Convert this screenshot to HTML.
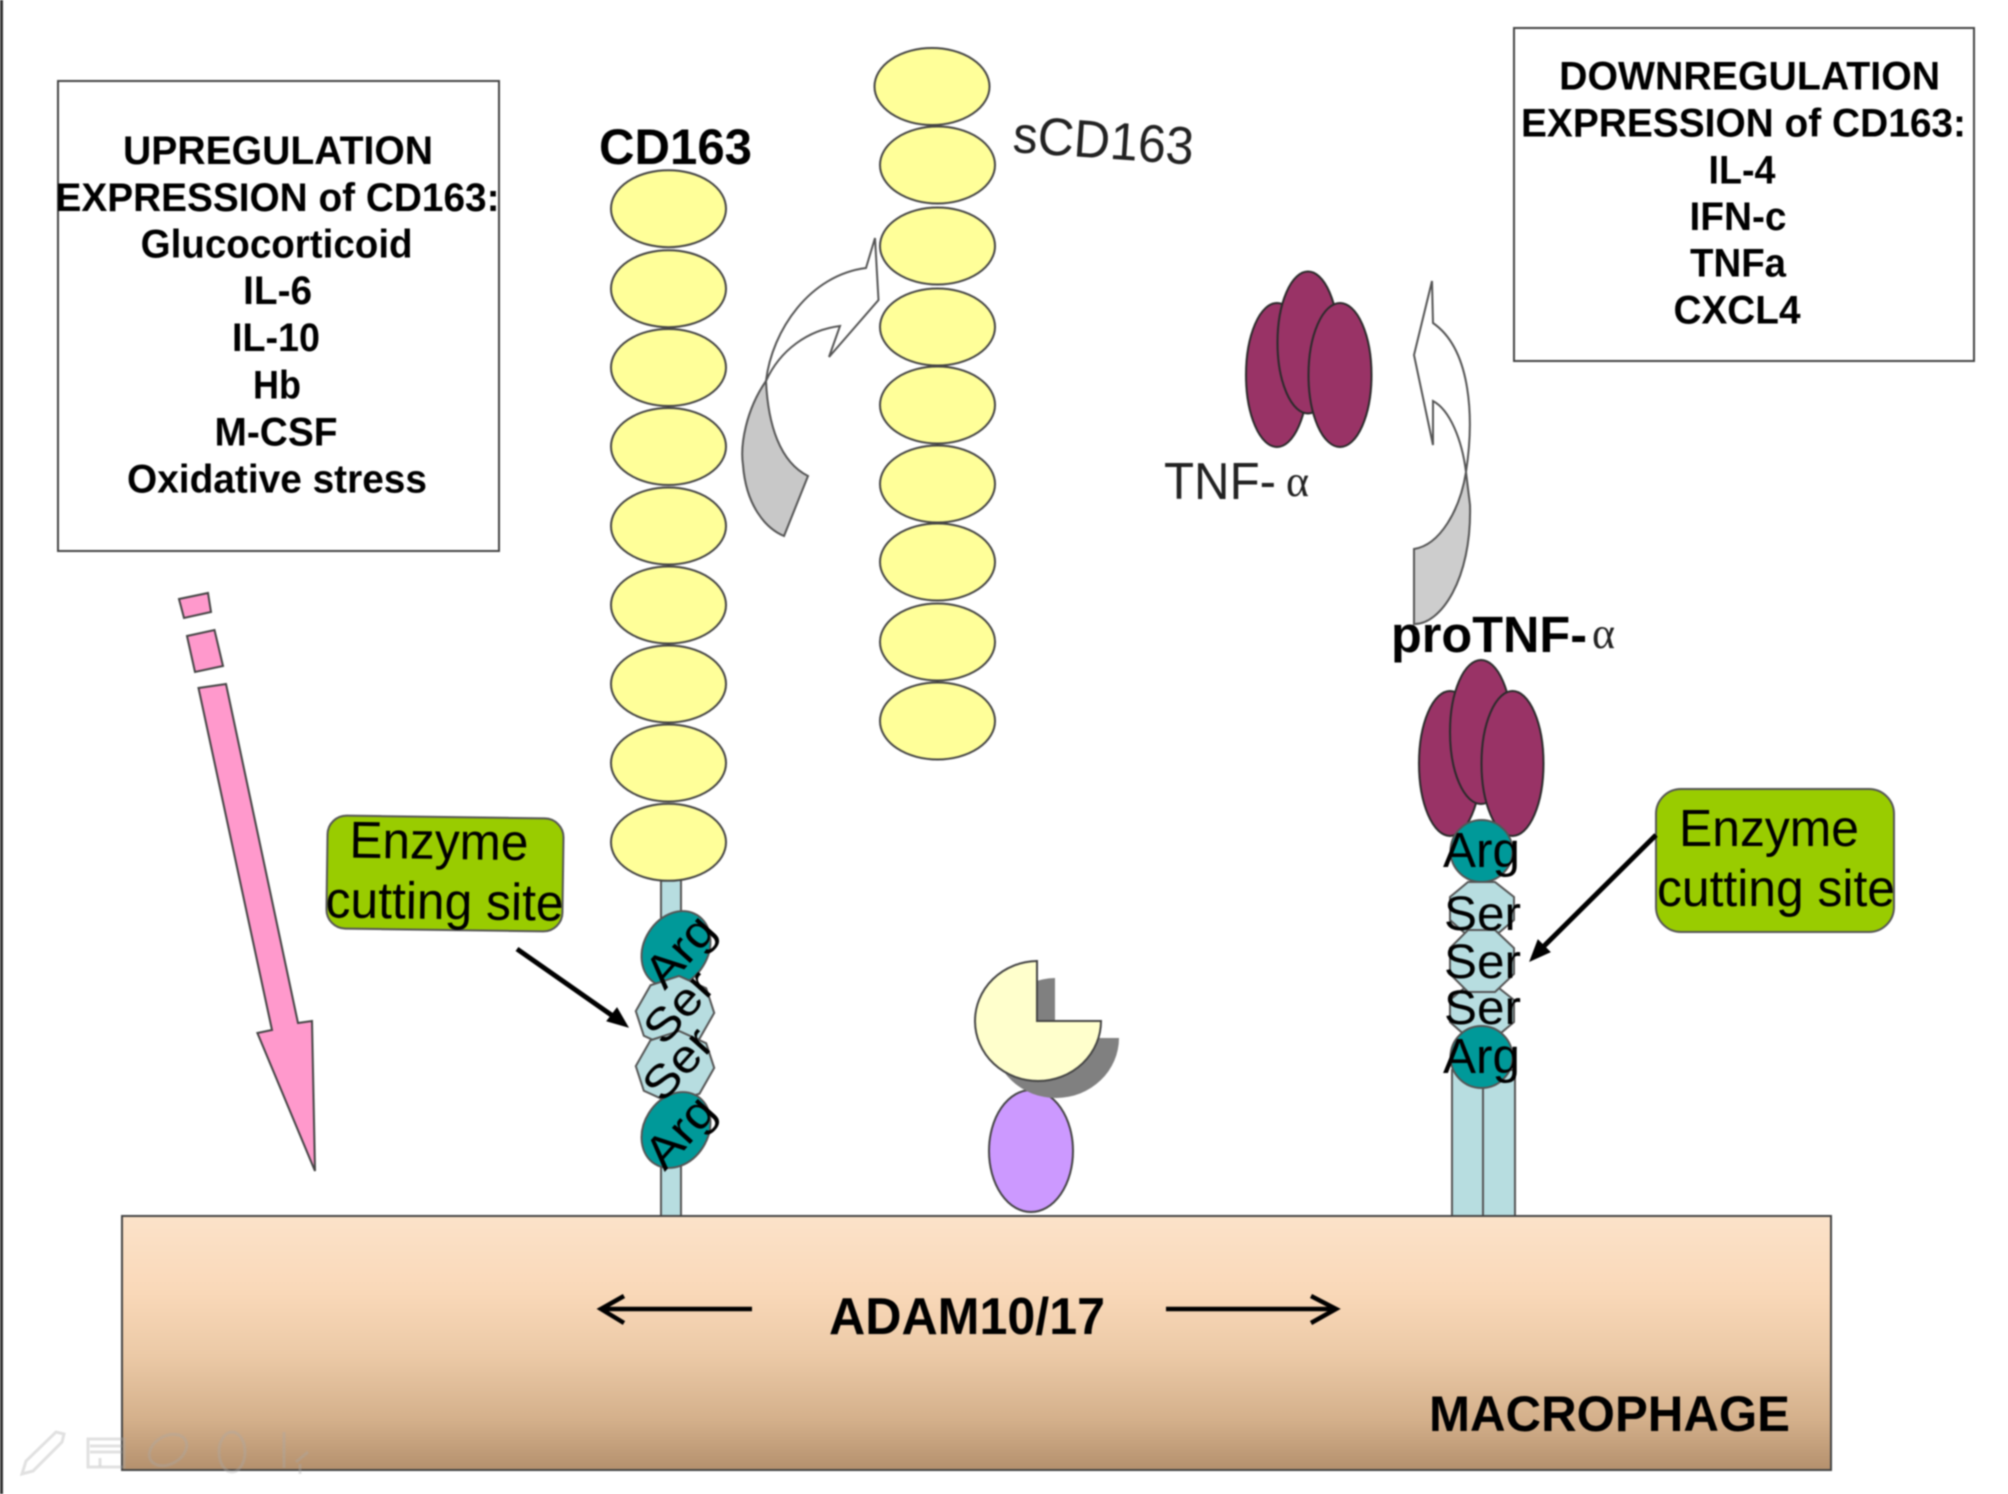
<!DOCTYPE html>
<html>
<head>
<meta charset="utf-8">
<style>
html,body{margin:0;padding:0;background:#fff;width:2008px;height:1494px;overflow:hidden}
svg{display:block;filter:blur(0.8px)}
text{font-family:"Liberation Sans",sans-serif;fill:#000}
.b{font-weight:bold;font-size:40px;text-anchor:middle}
</style>
</head>
<body>
<svg width="2008" height="1494" viewBox="0 0 2008 1494" xmlns="http://www.w3.org/2000/svg">
<defs>
<linearGradient id="mac" x1="0" y1="0" x2="0" y2="1">
<stop offset="0" stop-color="#FBE2C9"/>
<stop offset="0.3" stop-color="#F9D8B8"/>
<stop offset="0.55" stop-color="#EBC9A6"/>
<stop offset="0.8" stop-color="#D4B08B"/>
<stop offset="1" stop-color="#B4906D"/>
</linearGradient>
</defs>
<rect width="2008" height="1494" fill="#fff"/>
<rect x="0" y="0" width="3" height="1494" fill="#333"/>

<!-- up box -->
<rect x="58" y="81" width="441" height="470" fill="#fff" stroke="#444" stroke-width="2"/>
<text class="b" x="278" y="164" textLength="310" lengthAdjust="spacingAndGlyphs">UPREGULATION</text>
<text class="b" x="277.5" y="211" textLength="444" lengthAdjust="spacingAndGlyphs">EXPRESSION of CD163:</text>
<text class="b" x="276.6" y="257.5" textLength="272" lengthAdjust="spacingAndGlyphs">Glucocorticoid</text>
<text class="b" x="277.6" y="304" textLength="69" lengthAdjust="spacingAndGlyphs">IL-6</text>
<text class="b" x="276" y="351" textLength="88" lengthAdjust="spacingAndGlyphs">IL-10</text>
<text class="b" x="277" y="398.5" textLength="48" lengthAdjust="spacingAndGlyphs">Hb</text>
<text class="b" x="276" y="445.5" textLength="123" lengthAdjust="spacingAndGlyphs">M-CSF</text>
<text class="b" x="277" y="492.5" textLength="300" lengthAdjust="spacingAndGlyphs">Oxidative stress</text>

<!-- down box -->
<rect x="1514" y="28" width="460" height="333" fill="#fff" stroke="#444" stroke-width="2"/>
<text class="b" x="1749.6" y="89.5" textLength="381" lengthAdjust="spacingAndGlyphs">DOWNREGULATION</text>
<text class="b" x="1743.5" y="136.5" textLength="445" lengthAdjust="spacingAndGlyphs">EXPRESSION of CD163:</text>
<text class="b" x="1742" y="183.5" textLength="67" lengthAdjust="spacingAndGlyphs">IL-4</text>
<text class="b" x="1738" y="230" textLength="97" lengthAdjust="spacingAndGlyphs">IFN-c</text>
<text class="b" x="1738" y="276.5" textLength="96" lengthAdjust="spacingAndGlyphs">TNFa</text>
<text class="b" x="1737" y="323.5" textLength="127" lengthAdjust="spacingAndGlyphs">CXCL4</text>

<!-- labels -->
<text x="599" y="164" font-size="50" font-weight="bold" textLength="153" lengthAdjust="spacingAndGlyphs">CD163</text>
<text x="1012" y="152" font-size="53" style="fill:#222" textLength="181" lengthAdjust="spacingAndGlyphs" transform="rotate(4 1012 152)"><tspan font-size="52">s</tspan>CD163</text>
<text x="1164" y="499" font-size="52" textLength="112" lengthAdjust="spacingAndGlyphs" style="fill:#222">TNF-</text>
<text x="1286" y="496" font-size="44" style="fill:#222;font-family:'Liberation Serif',serif">α</text>
<text x="1391" y="652" font-size="51" font-weight="bold" textLength="196" lengthAdjust="spacingAndGlyphs">proTNF-</text>
<text x="1592" y="648" font-size="44" style="fill:#222;font-family:'Liberation Serif',serif">α</text>

<!-- left stem -->
<rect x="661" y="880" width="20" height="336" fill="#B7DDE0" stroke="#555" stroke-width="2"/>

<!-- CD163 chain -->
<g fill="#FFFF99" stroke="#444" stroke-width="2">
<ellipse cx="668.5" cy="208.7" rx="57.5" ry="38.5"/>
<ellipse cx="668.5" cy="288.7" rx="57.5" ry="38.5"/>
<ellipse cx="668.5" cy="367.5" rx="57.5" ry="38.5"/>
<ellipse cx="668.5" cy="446.5" rx="57.5" ry="38.5"/>
<ellipse cx="668.5" cy="526" rx="57.5" ry="38.5"/>
<ellipse cx="668.5" cy="605" rx="57.5" ry="38.5"/>
<ellipse cx="668.5" cy="684" rx="57.5" ry="38.5"/>
<ellipse cx="668.5" cy="763" rx="57.5" ry="38.5"/>
<ellipse cx="668.5" cy="842.3" rx="57.5" ry="38.5"/>
<!-- sCD163 chain -->
<ellipse cx="932" cy="86.5" rx="57.5" ry="38.5"/>
<ellipse cx="937.5" cy="165" rx="57.5" ry="38.5"/>
<ellipse cx="937.5" cy="246" rx="57.5" ry="38.5"/>
<ellipse cx="937.5" cy="327" rx="57.5" ry="38.5"/>
<ellipse cx="937.5" cy="405" rx="57.5" ry="38.5"/>
<ellipse cx="937.5" cy="484" rx="57.5" ry="38.5"/>
<ellipse cx="937.5" cy="562" rx="57.5" ry="38.5"/>
<ellipse cx="937.5" cy="642" rx="57.5" ry="38.5"/>
<ellipse cx="937.5" cy="721" rx="57.5" ry="38.5"/>
</g>

<!-- left curved arrow -->
<path d="M766 381 C746 410 740 445 743 465 C746 505 765 528 784 536 L808 476 C780 462 768 425 766 381 Z" fill="#C8C8C8" stroke="#555" stroke-width="2"/>
<path d="M875 238 L878.5 300 L829 357 L840 326 C808 330 780 350 766 381 C772 330 810 275 866 268 Z" fill="#fff" stroke="#555" stroke-width="2"/>

<!-- right curved arrow -->
<path d="M1466 472 C1460 510 1440 545 1414 549 L1414 624 C1440 625 1472 580 1470 505 Z" fill="#CDCDCD" stroke="#555" stroke-width="2"/>
<path d="M1432 281 L1414 355 L1433 445 L1433 401 C1450 410 1462 440 1466 472 C1474 420 1472 350 1433 323 Z" fill="#fff" stroke="#555" stroke-width="2"/>

<!-- TNF trimer -->
<g fill="#993366" stroke="#2a2a2a" stroke-width="2">
<ellipse cx="1277" cy="375" rx="31" ry="72"/>
<ellipse cx="1308" cy="342.5" rx="30.5" ry="71"/>
<ellipse cx="1340" cy="375" rx="31.5" ry="72"/>
</g>

<!-- proTNF stem -->
<rect x="1452" y="1070" width="31" height="146" fill="#B7DDE0" stroke="#555" stroke-width="2"/>
<rect x="1483" y="1070" width="32" height="146" fill="#B7DDE0" stroke="#555" stroke-width="2"/>

<!-- proTNF trimer -->
<g fill="#993366" stroke="#2a2a2a" stroke-width="2">
<ellipse cx="1450" cy="763.5" rx="31" ry="72.5"/>
<ellipse cx="1481" cy="732" rx="31" ry="72"/>
<ellipse cx="1512.5" cy="763.5" rx="31" ry="72.5"/>
</g>

<!-- right peptide -->
<g stroke="#555" stroke-width="2">
<polygon points="1468,882 1495,882 1514,897 1514,920 1495,936 1468,936 1450,920 1450,897" fill="#B7DDE0"/>
<polygon points="1468,985 1495,985 1514,1000 1514,1022 1495,1038 1468,1038 1450,1022 1450,1000" fill="#B7DDE0"/>
<polygon points="1468,930 1495,930 1514,948 1514,974 1495,992 1468,992 1450,974 1450,948" fill="#B7DDE0"/>
<circle cx="1481.5" cy="851" r="31" fill="#009999"/>
<circle cx="1481.5" cy="1057" r="31" fill="#009999"/>
</g>
<text x="1443" y="867" font-size="49" textLength="77" lengthAdjust="spacingAndGlyphs">Arg</text>
<text x="1444" y="930" font-size="48" textLength="77" lengthAdjust="spacingAndGlyphs">Ser</text>
<text x="1444" y="978" font-size="48" textLength="77" lengthAdjust="spacingAndGlyphs">Ser</text>
<text x="1444" y="1024" font-size="48" textLength="77" lengthAdjust="spacingAndGlyphs">Ser</text>
<text x="1443" y="1073" font-size="49" textLength="77" lengthAdjust="spacingAndGlyphs">Arg</text>

<!-- left peptide -->
<g stroke="#555" stroke-width="2">
<ellipse cx="676" cy="949" rx="40" ry="32" fill="#009999" transform="rotate(-58 676 949)"/>
<polygon points="-15,-33 15,-33 37,-13 37,13 15,33 -15,33 -37,13 -37,-13" fill="#B7DDE0" transform="translate(675 1012) rotate(-18)"/>
<polygon points="-15,-33 15,-33 37,-13 37,13 15,33 -15,33 -37,13 -37,-13" fill="#B7DDE0" transform="translate(675 1067) rotate(-18)"/>
<ellipse cx="676" cy="1130" rx="40" ry="32" fill="#009999" transform="rotate(-58 676 1130)"/>
</g>
<text transform="translate(681 952) rotate(-48)" y="14" text-anchor="middle" textLength="80" lengthAdjust="spacingAndGlyphs" font-size="46">Arg</text>
<text transform="translate(680 1008) rotate(-48)" y="14" text-anchor="middle" textLength="80" lengthAdjust="spacingAndGlyphs" font-size="46">Ser</text>
<text transform="translate(679 1065) rotate(-48)" y="14" text-anchor="middle" textLength="80" lengthAdjust="spacingAndGlyphs" font-size="46">Ser</text>
<text transform="translate(681 1133) rotate(-48)" y="14" text-anchor="middle" textLength="80" lengthAdjust="spacingAndGlyphs" font-size="46">Arg</text>

<!-- pink arrow -->
<g fill="#FF99CC" stroke="#444" stroke-width="2">
<polygon points="179,599 208,593 211,612 184,618"/>
<polygon points="187,636 214.5,630 223,666 195,672"/>
<polygon points="198.5,688 226,684 298,1023 312,1021 315,1171 257.4,1033 272,1030"/>
</g>

<!-- enzyme -->
<ellipse cx="1031" cy="1151" rx="42" ry="61" fill="#CC99FF" stroke="#444" stroke-width="2"/>
<path d="M1055 978 A63 60 0 1 0 1119 1038 L1055 1038 Z" fill="#808080"/>
<path d="M1037 961 A63 60 0 1 0 1101 1021 L1037 1021 Z" fill="#FFFFCC" stroke="#444" stroke-width="2"/>

<!-- macrophage -->
<rect x="122" y="1216" width="1709" height="254" fill="url(#mac)" stroke="#444" stroke-width="2"/>
<text x="829" y="1334" font-size="52" font-weight="bold" textLength="276" lengthAdjust="spacingAndGlyphs">ADAM10/17</text>
<text x="1429" y="1431" font-size="50" font-weight="bold" textLength="361" lengthAdjust="spacingAndGlyphs">MACROPHAGE</text>
<g fill="none" stroke="#000" stroke-width="4.5">
<path d="M752 1309 H601"/>
<path d="M624 1296 L601 1309 L624 1323"/>
<path d="M1166 1309 H1336"/>
<path d="M1311 1296 L1336 1309 L1311 1323"/>
</g>

<!-- toolbar ghost icons -->
<g fill="none" stroke="#aaa" stroke-opacity="0.35" stroke-width="3">
<path d="M22 1474 L26 1461 L56 1432 L64 1434 L62 1442 L33 1471 Z"/>
<rect x="88" y="1439" width="36" height="28"/>
<path d="M90 1446 H122 M90 1452 H122 M100 1458 V1466"/>
<ellipse cx="168" cy="1450" rx="20" ry="14" transform="rotate(-30 168 1450)"/>
<ellipse cx="232" cy="1452" rx="13" ry="20"/>
<path d="M284 1432 V1468 M296 1462 L308 1452 M300 1464 V1474"/>
</g>

<!-- green labels -->
<g transform="rotate(0.8 445 873)">
<rect x="327" y="817" width="236" height="113" rx="19" fill="#99CC00" stroke="#555" stroke-width="2"/>
<text x="349" y="859" font-size="52" textLength="179" lengthAdjust="spacingAndGlyphs">Enzyme</text>
<text x="326" y="919" font-size="52" textLength="238" lengthAdjust="spacingAndGlyphs">cutting site</text>
</g>
<rect x="1656" y="789" width="238" height="143" rx="25" fill="#99CC00" stroke="#555" stroke-width="2"/>
<text x="1679" y="846" font-size="52" textLength="180" lengthAdjust="spacingAndGlyphs">Enzyme</text>
<text x="1657" y="906" font-size="52" textLength="238" lengthAdjust="spacingAndGlyphs">cutting site</text>

<!-- pointer arrows -->
<g stroke="#000" stroke-width="5" fill="#000">
<path d="M517 949 L620 1021" fill="none"/>
<polygon points="628,1027 607,1021 617,1008" stroke-width="1"/>
<path d="M1656 835 L1537 953" fill="none"/>
<polygon points="1530,961 1538,940 1550,952" stroke-width="1"/>
</g>
</svg>
</body>
</html>
